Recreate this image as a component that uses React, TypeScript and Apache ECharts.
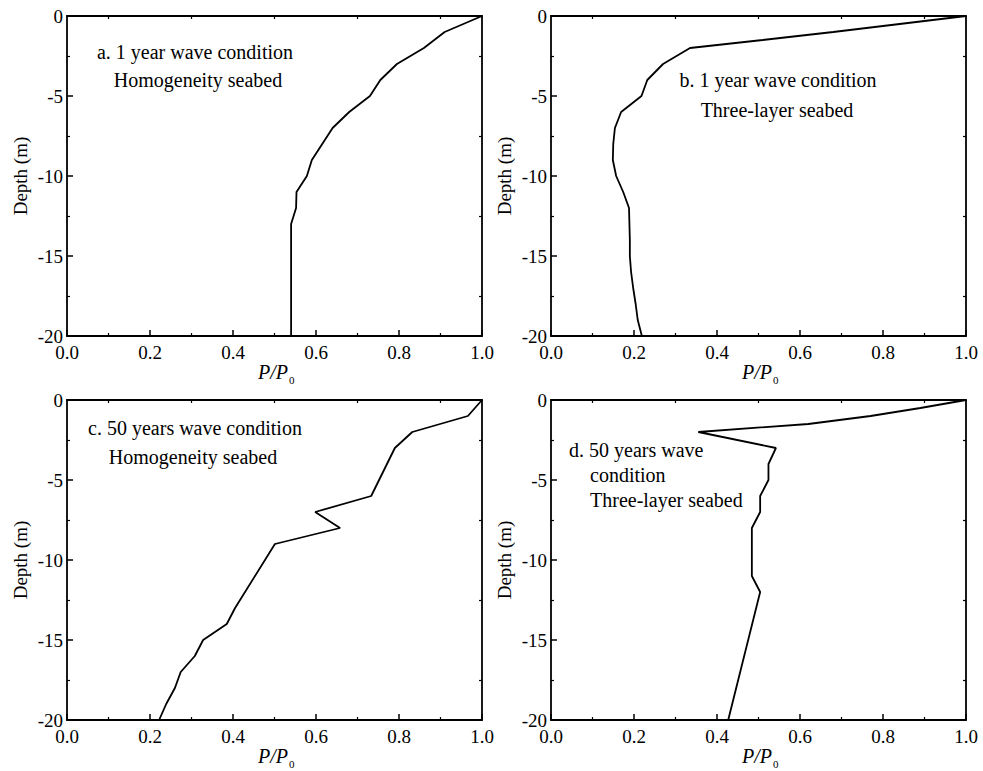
import React, { useEffect, useRef } from "react";
import * as echarts from "echarts";

// Pore-pressure ratio P/P0 against depth below the seabed surface (m)
const depthA = [0, -1, -2, -3, -4, -5, -6, -7, -8, -9, -10, -11, -12, -13, -14, -15, -16, -17, -18, -19, -20];
const ratioA = [1.0, 0.91, 0.86, 0.795, 0.755, 0.73, 0.68, 0.64, 0.615, 0.59, 0.578, 0.553, 0.552, 0.54, 0.54, 0.54, 0.54, 0.54, 0.54, 0.54, 0.54];

const depthB = [0, -0.5, -1, -1.5, -2, -3, -4, -5, -6, -7, -8, -9, -10, -11, -12, -13, -14, -15, -16, -17, -18, -19, -20];
const ratioB = [1.0, 0.84, 0.68, 0.51, 0.335, 0.27, 0.232, 0.218, 0.169, 0.154, 0.15, 0.149, 0.157, 0.174, 0.188, 0.189, 0.19, 0.19, 0.193, 0.198, 0.204, 0.209, 0.219];

const depthC = [0, -1, -2, -3, -6, -7, -8, -9, -13, -14, -15, -16, -17, -18, -19, -20];
const ratioC = [1.0, 0.966, 0.832, 0.79, 0.733, 0.598, 0.658, 0.501, 0.405, 0.385, 0.328, 0.308, 0.274, 0.26, 0.239, 0.222];

const depthD = [0, -0.5, -1, -1.5, -2, -3, -4, -5, -6, -7, -8, -11, -12, -20];
const ratioD = [1.0, 0.89, 0.77, 0.62, 0.355, 0.542, 0.524, 0.524, 0.504, 0.504, 0.484, 0.484, 0.504, 0.427];

// Axis ranges and tick steps
const ratioRange = [0, 1];
const ratioStep = 0.2;
const depthRange = [-20, 0];
const depthStep = 5;

const panelLines = [
  ["a. 1 year wave condition", "Homogeneity seabed"],
  ["b. 1 year wave condition", "Three-layer seabed"],
  ["c. 50 years wave condition", "Homogeneity seabed"],
  ["d. 50 years wave", "condition", "Three-layer seabed"],
];

const FONT = "Liberation Serif, Times New Roman, serif";

// Plot-area boxes (px)
const boxes = [
  { left: 67, top: 16 },
  { left: 551, top: 16 },
  { left: 67, top: 400 },
  { left: 551, top: 400 },
];
const W = 415;
const H = 320;

export default function App() {
  const ref = useRef<HTMLDivElement>(null);

  useEffect(() => {
    document.body.style.margin = "0";
    if (!ref.current) return;
    const chart = echarts.init(ref.current, null, { renderer: "svg" });

    const profiles = [
      [ratioA, depthA],
      [ratioB, depthB],
      [ratioC, depthC],
      [ratioD, depthD],
    ];

    const axisLine = { show: true, onZero: false, lineStyle: { color: "#000", width: 1.8 } };
    const label = { color: "#000", fontFamily: FONT, fontSize: 19 };

    const grid: any[] = [];
    const xAxis: any[] = [];
    const yAxis: any[] = [];
    const series: any[] = [];
    const graphic: any[] = [];

    boxes.forEach((b, i) => {
      grid.push({ left: b.left, top: b.top, width: W, height: H, containLabel: false });
      // bottom axis with labels
      xAxis.push({
        type: "value", gridIndex: i, position: "bottom",
        min: ratioRange[0], max: ratioRange[1], interval: ratioStep,
        axisLine, splitLine: { show: false },
        axisTick: { show: true, inside: true, length: 6, lineStyle: { color: "#000", width: 1.5 } },
        minorTick: { show: true, splitNumber: 2, length: 3, lineStyle: { color: "#000", width: 1.2 } },
        axisLabel: { ...label, margin: 7, formatter: (v: number) => v.toFixed(1), showMinLabel: true, showMaxLabel: true },
      });
      // top frame
      xAxis.push({
        type: "value", gridIndex: i, position: "top",
        min: ratioRange[0], max: ratioRange[1], interval: ratioStep,
        axisLine, splitLine: { show: false },
        axisTick: { show: false, inside: true },
        minorTick: { show: true, splitNumber: 2, length: 3, lineStyle: { color: "#000", width: 1.2 } },
        axisLabel: { show: false },
      });
      yAxis.push({
        type: "value", gridIndex: i, position: "left",
        min: depthRange[0], max: depthRange[1], interval: depthStep,
        axisLine, splitLine: { show: false },
        name: "Depth (m)", nameLocation: "middle", nameGap: 37, nameRotate: 90,
        nameTextStyle: { color: "#000", fontFamily: FONT, fontSize: 19 },
        axisTick: { show: true, inside: true, length: 6, lineStyle: { color: "#000", width: 1.5 } },
        minorTick: { show: true, splitNumber: 2, length: 3, lineStyle: { color: "#000", width: 1.2 } },
        axisLabel: { ...label, margin: 4, showMinLabel: true, showMaxLabel: true },
      });
      // right frame
      yAxis.push({
        type: "value", gridIndex: i, position: "right",
        min: depthRange[0], max: depthRange[1], interval: depthStep,
        axisLine, splitLine: { show: false },
        axisTick: { show: false, inside: true },
        minorTick: { show: true, splitNumber: 2, length: 3, lineStyle: { color: "#000", width: 1.2 } },
        axisLabel: { show: false },
      });

      const [ratio, depth] = profiles[i];
      series.push({
        type: "line",
        xAxisIndex: i * 2,
        yAxisIndex: i * 2,
        data: ratio.map((r, k) => [r, depth[k]]),
        symbol: "none",
        lineStyle: { color: "#000", width: 1.8 },
        clip: false,
      });

      // P/P0 axis title
      const cx = b.left + W / 2;
      const ty = b.top + H + 36;
      graphic.push({
        type: "text", x: cx + 13.5, y: ty,
        style: { text: "P/P", fill: "#000", font: `italic 20px ${FONT}`, align: "right", verticalAlign: "middle" },
      });
      graphic.push({
        type: "text", x: cx + 14.5, y: ty + 8,
        style: { text: "0", fill: "#000", font: `11px ${FONT}`, align: "left", verticalAlign: "middle" },
      });
    });

    // Panel captions
    const captionFont = `20px ${FONT}`;
    const captions = [
      { lines: panelLines[0], pos: [[195, 52], [198, 80]], align: "center" },
      { lines: panelLines[1], pos: [[778, 80], [777, 110]], align: "center" },
      { lines: panelLines[2], pos: [[195, 428], [193, 457]], align: "center" },
      { lines: panelLines[3], pos: [[569, 450], [590, 475], [590, 500]], align: "left" },
    ];
    captions.forEach((c) => {
      c.lines.forEach((t, k) => {
        graphic.push({
          type: "text", x: c.pos[k][0], y: c.pos[k][1],
          style: { text: t, fill: "#000", font: captionFont, align: c.align, verticalAlign: "middle" },
        });
      });
    });

    chart.setOption({
      animation: false,
      backgroundColor: "#fff",
      grid, xAxis, yAxis, series, graphic,
    });

    return () => chart.dispose();
  }, []);

  return <div ref={ref} style={{ width: 983, height: 771 }} />;
}
